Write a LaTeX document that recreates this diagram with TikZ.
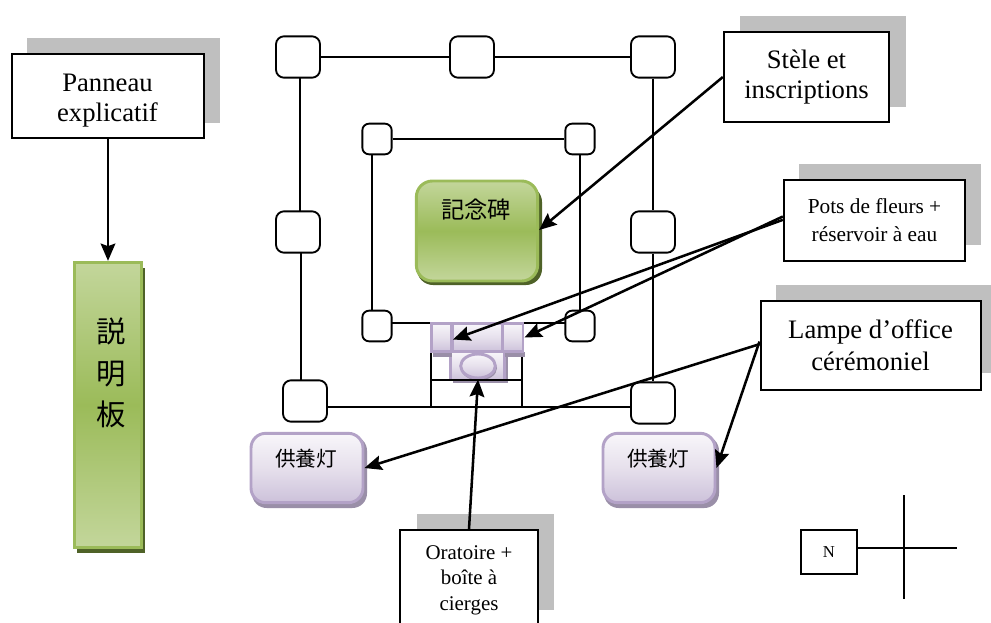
\documentclass[tikz,border=0pt]{standalone}
\usepackage{fontspec}
\setmainfont{Liberation Serif}
\newfontfamily\cjk{Noto Sans CJK JP}
\usetikzlibrary{arrows.meta,backgrounds,shapes.geometric}
\definecolor{gl}{HTML}{C3D69B}
\definecolor{gm}{HTML}{9BBB59}
\definecolor{gborder}{HTML}{9BBB59}
\definecolor{gshadow}{HTML}{4F6228}
\definecolor{pt}{HTML}{F8F6FA}
\definecolor{pm}{HTML}{E6E0EC}
\definecolor{pb}{HTML}{CCC1DA}
\definecolor{pborder}{HTML}{B3A2C7}
\definecolor{pshadow}{HTML}{9A8FA8}
\tikzset{
  x=0.75pt,y=-0.75pt,
  wire/.style={draw=black,line width=1.6pt},
  pointer/.style={draw=black,line width=1.9pt,-{Stealth[length=13pt,width=11pt,inset=2pt]}},
  post/.style={draw=black,fill=white,line width=1.4pt,rounded corners=6pt,inner sep=0pt},
  bigpost/.style={post,minimum width=33pt,minimum height=31pt},
  smallpost/.style={post,rounded corners=5pt,minimum width=22pt,minimum height=23pt},
  note/.style={draw=black,fill=white,line width=1.5pt,inner sep=0pt,align=center},
  noteshadow/.style={fill=black!25,draw=none},
  greenbox/.style={draw=gborder,line width=2.2pt,top color=gl,bottom color=gl,middle color=gm,inner sep=0pt},
  purplebox/.style={draw=pborder,line width=2.2pt,top color=pt,bottom color=pb,middle color=pm,inner sep=0pt},
  cjklabel/.style={inner sep=0pt,font=\cjk},
}
\begin{document}
\begin{tikzpicture}
\useasboundingbox (0,0) rectangle (991,622);
\clip (0,0) rectangle (991,622);

% outer enclosure
\node[bigpost] (o1) at (298,57) {};
\node[bigpost] (o2) at (472,57) {};
\node[bigpost] (o3) at (653,57) {};
\node[bigpost] (o4) at (298,232) {};
\node[bigpost] (o5) at (653,232) {};
\node[bigpost] (o6) at (305,401) {};
\node[bigpost] (o7) at (653,403) {};

% inner enclosure
\node[smallpost] (i1) at (377,139) {};
\node[smallpost] (i2) at (580,139) {};
\node[smallpost] (i3) at (377,326) {};
\node[smallpost] (i4) at (580,326) {};

% altar frame coordinates
\coordinate (fa) at (431,345);
\coordinate (fb) at (522,345);
\coordinate (fc) at (431,407);
\coordinate (fd) at (522,407);
\coordinate (fe) at (431,380);
\coordinate (ff) at (522,380);

\begin{scope}[on background layer]
\fill[white] (0,0) rectangle (991,622);
\draw[wire] (o1) -- (o2);
\draw[wire] (o2) -- (o3);
\draw[wire] (o1.center -| 300,0) -- (o4.center -| 300,0);
\draw[wire] (o4.center -| 301,0) -- (o6.center -| 301,0);
\draw[wire] (o3) -- (o5);
\draw[wire] (o5) -- (o7);
\draw[wire] (o6.center |- 0,407) -- (o7.center |- 0,407);
\draw[wire] (i1) -- (i2);
\draw[wire] (i1.center -| 372,0) -- (i3.center -| 372,0);
\draw[wire] (i2) -- (i4);
\draw[wire] (i3.center |- 0,323) -- (i4.center |- 0,323);
\draw[wire,line width=1.4pt] (fa) -- (fc);
\draw[wire,line width=1.4pt] (fb) -- (fd);
\end{scope}

% altar
\fill[pshadow] (453,356) rectangle (508,383);
\node[purplebox,minimum width=38pt,minimum height=21pt] (altartop) at (477.5,337.5) {};
\node[purplebox,minimum width=41pt,minimum height=21pt] (altarlow) at (477.5,366) {};
\fill[pshadow] (433,352) rectangle (452,357);
\fill[pshadow] (505,352) rectangle (525,357);
\node[purplebox,minimum width=15pt,minimum height=21.5pt] (potl) at (441.5,337.5) {};
\node[purplebox,minimum width=15pt,minimum height=21.5pt] (potr) at (513,337.5) {};
\fill[pshadow] (479,368) ellipse (18 and 12.5);
\node[ellipse,purplebox,minimum width=26pt,minimum height=18pt] (box) at (478,366) {};
\draw[wire,line width=1.4pt] (fe) -- (ff);

% stele
\fill[gshadow,rounded corners=12pt] (417,186) rectangle (542,285);
\node[greenbox,rounded corners=12pt,minimum width=91pt,minimum height=75pt] (stele) at (477,231) {};
\node[cjklabel,font=\cjk\fontsize{17.5pt}{20pt}\selectfont] (stelelabel) at (476,210) {記念碑};

% lamps
\fill[pshadow,rounded corners=11pt] (252,436) rectangle (367,508);
\node[purplebox,rounded corners=11pt,minimum width=84pt,minimum height=52pt] (lampl) at (307,468) {};
\node[cjklabel,font=\cjk\fontsize{15.5pt}{16pt}\selectfont] (lampllabel) at (306,459) {供養灯};
\fill[pshadow,rounded corners=11pt] (604,436) rectangle (719,508);
\node[purplebox,rounded corners=11pt,minimum width=84pt,minimum height=52pt] (lampr) at (659,468) {};
\node[cjklabel,font=\cjk\fontsize{15.5pt}{16pt}\selectfont] (lamprlabel) at (658,459) {供養灯};

% panel
\fill[gshadow] (77,268) rectangle (145,553);
\node[greenbox,minimum width=50pt,minimum height=214pt] (panel) at (108,405) {};
\node[cjklabel,font=\cjk\fontsize{22pt}{31pt}\selectfont,align=center] (panellabel) at (111,373) {説\\明\\板};

% French labels
\fill[noteshadow] (27,38) rectangle (220,123);
\node[note,minimum width=144pt,minimum height=63pt] (a) at (108,96) {};
\node[inner sep=0pt,align=center,font=\fontsize{20pt}{22.5pt}\selectfont] (alabel) at (107.5,100.5) {Panneau\\explicatif};
\fill[noteshadow] (740,16) rectangle (906,107);
\node[note,minimum width=124pt,minimum height=68pt,font=\fontsize{20pt}{23pt}\selectfont] (b) at (806.5,77) {Stèle et\\inscriptions};
\fill[noteshadow] (799,164) rectangle (981,245);
\node[note,minimum width=136pt,minimum height=60.5pt,font=\fontsize{16pt}{21pt}\selectfont] (c) at (874.5,220.5) {Pots de fleurs +\\réservoir à eau};
\fill[noteshadow] (776,285) rectangle (991,373);
\node[note,minimum width=165pt,minimum height=67pt,font=\fontsize{20pt}{24pt}\selectfont] (d) at (870.5,345.5) {Lampe d’office\\cérémoniel};
\fill[noteshadow] (417,514) rectangle (554,610);
\node[note,minimum width=103.5pt,minimum height=75pt,font=\fontsize{15.7pt}{19pt}\selectfont] (e) at (469,580) {Oratoire +\\boîte à\\cierges};
\node[note,line width=1pt,minimum width=42pt,minimum height=33pt,font=\fontsize{12.5pt}{14pt}\selectfont] (n) at (829,552) {N};

% compass
\coordinate (ce) at (957,548);
\coordinate (ct) at (904,495);
\coordinate (cb) at (904,599);
\draw[line width=1.1pt] (n.east |- ce) -- (ce);
\draw[line width=1.1pt] (ct) -- (cb);

% pointers
\draw[pointer] (a.south) -- (panel.north);
\draw[pointer] (b.west) -- ([yshift=0.75pt]stele.east);
\draw[pointer] ([yshift=0.5pt]c.west) -- ([shift={(0,2)}]potl.east);
\draw[pointer] ([yshift=3pt]c.west) -- ([shift={(0,0)}]potr.east);
\draw[pointer] ([yshift=1pt]d.west) -- (lampl.east);
\draw[pointer] ([yshift=3pt]d.west) -- (lampr.east);
\draw[pointer] (e.north) -- (box.south);
\end{tikzpicture}
\end{document}
